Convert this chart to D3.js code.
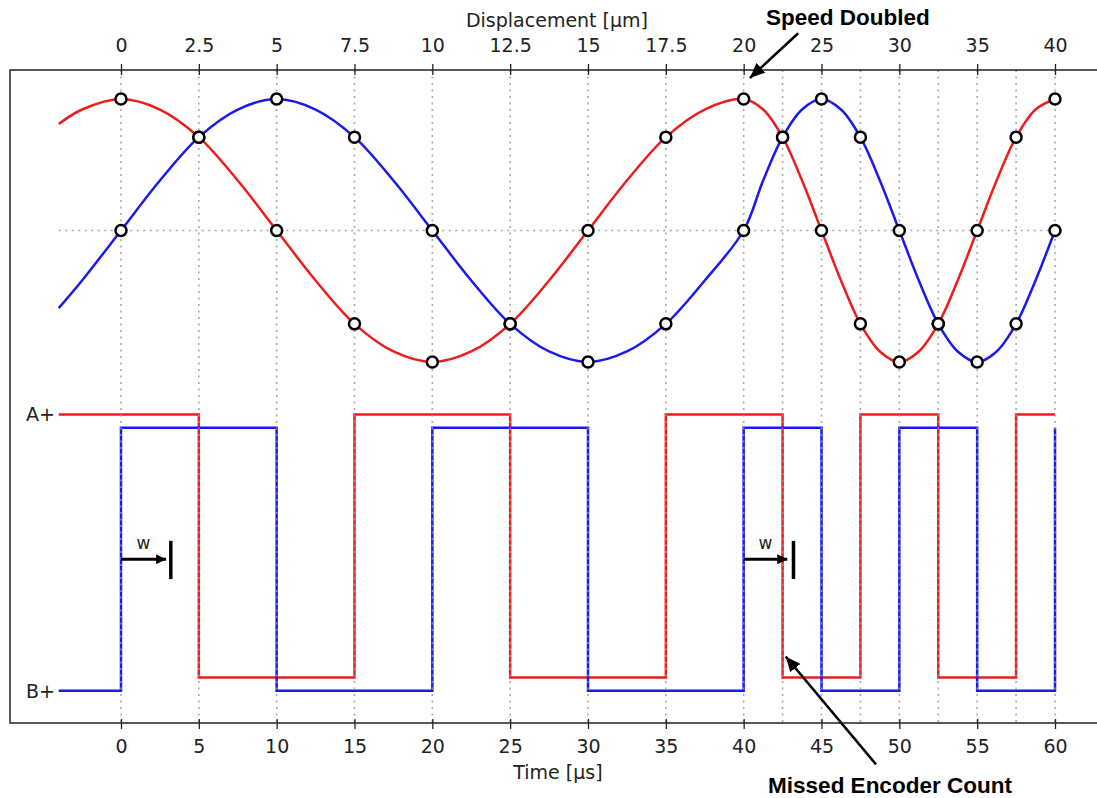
<!DOCTYPE html>
<html>
<head>
<meta charset="utf-8">
<script src="https://cdn.jsdelivr.net/npm/d3@7"></script>
<style>
  body { margin: 0; background: #fff; }
  text { font-family: "DejaVu Sans", sans-serif; fill: #222; }
  .note { font-family: "Liberation Sans", Arial, sans-serif; font-weight: bold; fill: #000; }
</style>
</head>
<body>
<svg id="chart" width="1097" height="798"></svg>
<script>
// sampled encoder signals (time in µs, normalised amplitude)
const sampleTimes = [-4, -2.5, 0, 2.5, 5, 7.5, 10, 12.5, 15, 17.5, 20, 22.5, 25, 27.5, 30, 32.5, 35, 37.5, 40,
  41.25, 42.5, 43.75, 45, 46.25, 47.5, 48.75, 50, 51.25, 52.5, 53.75, 55, 56.25, 57.5, 58.75, 60];
const signalA = [0.81, 0.92, 1, 0.92, 0.71, 0.38, 0, -0.38, -0.71, -0.92, -1, -0.92, -0.71, -0.38, 0, 0.38, 0.71, 0.92, 1,
  0.92, 0.71, 0.38, 0, -0.38, -0.71, -0.92, -1, -0.92, -0.71, -0.38, 0, 0.38, 0.71, 0.92, 1];
const signalB = [-0.59, -0.38, 0, 0.38, 0.71, 0.92, 1, 0.92, 0.71, 0.38, 0, -0.38, -0.71, -0.92, -1, -0.92, -0.71, -0.38, 0,
  0.38, 0.71, 0.92, 1, 0.92, 0.71, 0.38, 0, -0.38, -0.71, -0.92, -1, -0.92, -0.71, -0.38, 0];

// sample instants (every 2.5 µm of displacement)
const markerTimes = [0, 5, 10, 15, 20, 25, 30, 35, 40, 42.5, 45, 47.5, 50, 52.5, 55, 57.5, 60];

// digital outputs: edge times and the state after each edge
const edgesA = [-4, 5, 15, 25, 35, 42.5, 47.5, 52.5, 57.5, 60];
const statesA = [1, 0, 1, 0, 1, 0, 1, 0, 1, 1];
const edgesB = [-4, 0, 10, 20, 30, 40, 45, 50, 55, 60];
const statesB = [0, 1, 0, 1, 0, 1, 0, 1, 0, 1];
const levelsA = [-3.4, -1.4];   // low, high
const levelsB = [-3.5, -1.5];

const timeTicks = [0, 5, 10, 15, 20, 25, 30, 35, 40, 45, 50, 55, 60];
const dispTicks = [0, 2.5, 5, 7.5, 10, 12.5, 15, 17.5, 20, 25, 30, 35, 40];
const dispAtTime = [0, 20, 40];
const timeAtDisp = [0, 40, 60];
const channelLabels = ["A+", "B+"];
const channelValues = [-1.4, -3.5];

const svg = d3.select("#chart");
const frame = { left: 10, top: 70, right: 1100, bottom: 723 };

const x = d3.scaleLinear().domain([0, 60]).range([121, 1055]);
const y = d3.scaleLinear().domain([-1, 1]).range([362, 99]);
const xDisp = d3.scaleLinear().domain(dispAtTime).range(timeAtDisp.map(x));

const red = "#f01c1c", blue = "#1a1aee";
const fontSize = 19;

// defs for arrow heads
const defs = svg.append("defs");
function arrowHead(id, len, wid) {
  defs.append("marker")
    .attr("id", id)
    .attr("markerUnits", "userSpaceOnUse")
    .attr("viewBox", `0 ${-wid / 2} ${len} ${wid}`)
    .attr("refX", len).attr("refY", 0)
    .attr("markerWidth", len).attr("markerHeight", wid)
    .attr("orient", "auto")
    .append("path")
    .attr("d", `M0,${-wid / 2}L${len},0L0,${wid / 2}Z`)
    .attr("fill", "#000");
}
arrowHead("head-big", 15, 13);
arrowHead("head-small", 10, 10);

// analog curves
const ptsA = sampleTimes.map((t, i) => [t, signalA[i]]);
const ptsB = sampleTimes.map((t, i) => [t, signalB[i]]);
const line = d3.line().x(d => x(d[0])).y(d => y(d[1])).curve(d3.curveCatmullRom.alpha(0.5));

svg.append("path").datum(ptsA).attr("d", line)
  .attr("fill", "none").attr("stroke", red).attr("stroke-width", 2.5);
svg.append("path").datum(ptsB).attr("d", line)
  .attr("fill", "none").attr("stroke", blue).attr("stroke-width", 2.5);

// digital outputs
const step = d3.line().curve(d3.curveStepAfter);
const digA = edgesA.map((t, i) => [x(t), y(levelsA[statesA[i]])]);
const digB = edgesB.map((t, i) => [x(t), y(levelsB[statesB[i]])]);
svg.append("path").attr("d", step(digA))
  .attr("fill", "none").attr("stroke", red).attr("stroke-width", 2.5);
svg.append("path").attr("d", step(digB))
  .attr("fill", "none").attr("stroke", blue).attr("stroke-width", 2.5);

// dotted grid
const grid = svg.append("g")
  .attr("stroke", "#9a9a9a").attr("stroke-width", 1.6)
  .attr("stroke-dasharray", "2,4.5").attr("opacity", 0.85);
grid.selectAll("line.v")
  .data(markerTimes)
  .join("line")
  .attr("class", "v")
  .attr("x1", d => x(d)).attr("x2", d => x(d))
  .attr("y1", frame.top).attr("y2", frame.bottom);
grid.append("line")
  .attr("x1", x(-4)).attr("x2", x(60))
  .attr("y1", y(0)).attr("y2", y(0));

// sample markers
const markerPts = ptsA.concat(ptsB).filter(d => markerTimes.includes(d[0]));
svg.append("g").selectAll("circle")
  .data(markerPts)
  .join("circle")
  .attr("cx", d => x(d[0]))
  .attr("cy", d => y(d[1]))
  .attr("r", 5.5)
  .attr("fill", "#fff")
  .attr("stroke", "#000")
  .attr("stroke-width", 2.5);

// frame
svg.append("path")
  .attr("d", `M${frame.right},${frame.top}H${frame.left}V${frame.bottom}H${frame.right}`)
  .attr("fill", "none").attr("stroke", "#222").attr("stroke-width", 1.5);

// bottom axis
const bottomAxis = svg.append("g")
  .attr("transform", `translate(0,${frame.bottom})`)
  .call(d3.axisBottom(x).tickValues(timeTicks).tickFormat(d3.format("")).tickSize(6));
bottomAxis.select(".domain").remove();
bottomAxis.selectAll(".tick line").attr("y1", -4).attr("stroke", "#222").attr("stroke-width", 1.3);
bottomAxis.selectAll(".tick text").attr("y", 30).attr("dy", null)
  .attr("font-size", fontSize).attr("fill", "#222");

// top axis
const topAxis = svg.append("g")
  .attr("transform", `translate(0,${frame.top})`)
  .call(d3.axisTop(xDisp).tickValues(dispTicks).tickFormat(d3.format("")).tickSize(6));
topAxis.select(".domain").remove();
topAxis.selectAll(".tick line").attr("y1", 5).attr("stroke", "#222").attr("stroke-width", 1.3);
topAxis.selectAll(".tick text").attr("y", -18).attr("dy", null)
  .attr("font-size", fontSize).attr("fill", "#222");

// axis titles
svg.append("text").attr("x", 557).attr("y", 27).attr("text-anchor", "middle")
  .attr("font-size", fontSize).text("Displacement [µm]");
svg.append("text").attr("x", 558).attr("y", 779).attr("text-anchor", "middle")
  .attr("font-size", fontSize).text("Time [µs]");

// channel labels
svg.append("g").selectAll("text")
  .data(channelLabels)
  .join("text")
  .attr("x", 55)
  .attr("y", (d, i) => y(channelValues[i]))
  .attr("dy", "0.36em")
  .attr("text-anchor", "end")
  .attr("font-size", fontSize)
  .text(d => d);

// pulse-width markers
const widthStarts = [0, 40];
const widthEnds = [2.9, 42.8];
const widthBars = [3.2, 43.2];
widthStarts.forEach((t, i) => {
  svg.append("line")
    .attr("x1", x(t)).attr("x2", x(widthEnds[i]))
    .attr("y1", y(-2.5)).attr("y2", y(-2.5))
    .attr("stroke", "#000").attr("stroke-width", 3)
    .attr("marker-end", "url(#head-small)");
  svg.append("line")
    .attr("x1", x(widthBars[i])).attr("x2", x(widthBars[i]))
    .attr("y1", y(-2.36)).attr("y2", y(-2.65))
    .attr("stroke", "#000").attr("stroke-width", 3.5);
  svg.append("text")
    .attr("x", x((t + widthEnds[i]) / 2)).attr("y", y(-2.42))
    .attr("text-anchor", "middle").attr("font-size", 17)
    .text("w");
});

// annotations
function annotate(label, tx, ty, fromT, fromV, toT, toV, textDy) {
  svg.append("line")
    .attr("x1", x(fromT)).attr("y1", y(fromV))
    .attr("x2", x(toT)).attr("y2", y(toV))
    .attr("stroke", "#000").attr("stroke-width", 2.5)
    .attr("marker-end", "url(#head-big)");
  svg.append("text").attr("class", "note")
    .attr("x", x(tx)).attr("y", y(ty)).attr("dy", textDy)
    .attr("text-anchor", "middle").attr("font-size", 22.5)
    .text(label);
}
annotate("Speed Doubled", 46.7, 1.62, 43.5, 1.5, 40.4, 1.16, "0.35em");
annotate("Missed Encoder Count", 49.4, -4.22, 48.5, -4.06, 42.7, -3.24, "0.35em");
</script>
</body>
</html>
